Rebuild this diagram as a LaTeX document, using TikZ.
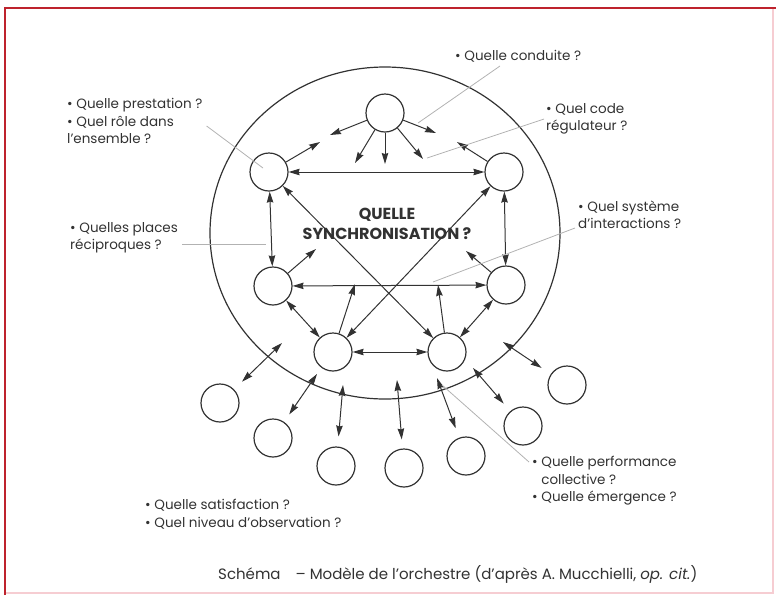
\documentclass[tikz,border=0pt]{standalone}
\usepackage{fontspec}
\setmainfont{Poppins}
\usetikzlibrary{arrows.meta}
\definecolor{orchred}{RGB}{190,35,45}
\definecolor{orchpink}{RGB}{246,205,210}
\definecolor{orchink}{RGB}{50,50,50}
\definecolor{orchgrey}{RGB}{178,178,178}

\begin{document}
\begin{tikzpicture}[
    x=1pt, y=-1pt,
    orchgroup/.style={draw=orchink, line width=1.2pt},
    orchbody/.style={circle, draw=orchink, fill=white, line width=1.2pt, minimum size=38pt, inner sep=0pt},
    orcharrow/.style={draw=orchink, line width=1pt, {Stealth[length=11pt,width=6.5pt,inset=1pt]}-{Stealth[length=11pt,width=6.5pt,inset=1pt]}},
    orchout/.style={draw=orchink, line width=1pt, -{Stealth[length=11pt,width=6.5pt,inset=1pt]}},
    orchlead/.style={draw=orchgrey, line width=0.8pt},
    orchtext/.style={anchor=west, inner sep=0pt, align=left, text=orchink, font=\fontsize{13.5}{17.5}\selectfont}
]
  \useasboundingbox (0,0) rectangle (776,595);
  % frame
  \draw[orchpink, line width=1.5pt] (773,8) -- (773,593) -- (5,593);
  \draw[orchred, line width=2pt] (5,595) -- (5,8) -- (776,8);

  % the orchestra as a whole
  \draw[orchgroup] (385,233) ellipse [x radius=175, y radius=166];

  % musicians inside
  \node[orchbody] (top) at (385,113) {};
  \node[orchbody] (ul) at (269,172) {};
  \node[orchbody] (ur) at (504,172) {};
  \node[orchbody] (ml) at (273,286) {};
  \node[orchbody] (mr) at (506,285) {};
  \node[orchbody] (ll) at (333,352) {};
  \node[orchbody] (lr) at (447,352) {};
  % audience outside
  \node[orchbody] (o1) at (220,403) {};
  \node[orchbody] (o2) at (273,438) {};
  \node[orchbody] (o3) at (336,466) {};
  \node[orchbody] (o4) at (404,468) {};
  \node[orchbody] (o5) at (466,456) {};
  \node[orchbody] (o6) at (523,426) {};
  \node[orchbody] (o7) at (567,385) {};

  % free ends
  \coordinate (tw) at (330,135);
  \coordinate (te) at (436,133);
  \coordinate (tsw) at (355,163);
  \coordinate (ts) at (385,164);
  \coordinate (tse) at (423,159);
  \coordinate (uw) at (320,142);
  \coordinate (ue) at (457,142);
  \coordinate (mlc) at (316,249);
  \coordinate (mrc) at (466,251);
  \coordinate (llc) at (355,284);
  \coordinate (lrc) at (438,285);
  \coordinate (g1) at (282,343);
  \coordinate (g2) at (317,374);
  \coordinate (g3) at (343,385);
  \coordinate (g4) at (397,380);
  \coordinate (g5) at (437,378);
  \coordinate (g6) at (473,368);
  \coordinate (g7) at (503,342);

  % links between musicians
  \draw[orcharrow] (ul) -- (ur);
  \draw[orcharrow] (ul) -- (ml);
  \draw[orcharrow] (ur) -- (mr);
  \draw[orcharrow] (ml) -- (mr);
  \draw[orcharrow] (ml) -- (ll);
  \draw[orcharrow] (mr) -- (lr);
  \draw[orcharrow] (ll) -- (lr);
  \draw[orcharrow] (ul) -- (lr);
  \draw[orcharrow] (ur) -- (ll);
  \draw[orchout] (top) -- (tw);
  \draw[orchout] (top) -- (te);
  \draw[orchout] (top) -- (tsw);
  \draw[orchout] (top) -- (ts);
  \draw[orchout] (top) -- (tse);
  \draw[orchout] (ul) -- (uw);
  \draw[orchout] (ur) -- (ue);
  \draw[orchout] (ml) -- (mlc);
  \draw[orchout] (mr) -- (mrc);
  \draw[orchout] (ll) -- (llc);
  \draw[orchout] (lr) -- (lrc);
  % links with the outside
  \draw[orcharrow, shorten >=11pt] (g1) -- (o1);
  \draw[orcharrow, shorten >=9pt] (g2) -- (o2);
  \draw[orcharrow, shorten >=10pt] (g3) -- (o3);
  \draw[orcharrow, shorten >=9pt] (g4) -- (o4);
  \draw[orcharrow, shorten >=10pt] (g5) -- (o5);
  \draw[orcharrow, shorten >=10pt] (g6) -- (o6);
  \draw[orcharrow, shorten >=11pt] (g7) -- (o7);

  \node[font=\bfseries\fontsize{16}{20}\selectfont, align=center, text=orchink] (sync) at (387,224) {QUELLE\\SYNCHRONISATION ?};

  % questions
  \node[orchtext] (conduite) at (455,56) {• Quelle conduite ?};
  \node[orchtext] (code) at (546,119) {• Quel code\\régulateur ?};
  \node[orchtext] (prestation) at (67,121) {• Quelle prestation ?\\• Quel rôle dans\\l'ensemble ?};
  \node[orchtext] (places) at (70,238) {• Quelles places\\réciproques ?};
  \node[orchtext] (systeme) at (578,215) {• Quel système\\d'interactions ?};
  \node[orchtext] (performance) at (532,481) {• Quelle performance\\\hphantom{• }collective ?\\• Quelle émergence ?};
  \node[orchtext] (satisfaction) at (145,514) {• Quelle satisfaction ?\\• Quel niveau d'observation ?};
  \node[orchtext, font=\fontsize{15}{17}\selectfont] (caption) at (218,574) {Schéma\hspace{15pt}– Modèle de l'orchestre (d'après A. Mucchielli, \textit{op. cit.})};

  \coordinate (lconduite) at (418,123);
  \coordinate (lcode) at (427,158);
  \coordinate (lprestation) at (263,168);
  \coordinate (lplaces) at (266,244);
  \coordinate (lsysteme) at (433,282);
  \coordinate (lperformance) at (442,385);
  \draw[orchlead] ([shift={(45,10)}]conduite.west) -- (lconduite);
  \draw[orchlead] ([shift={(-2,0)}]code.west) -- (lcode);
  \draw[orchlead] ([shift={(4,5)}]prestation.east) -- (lprestation);
  \draw[orchlead] ([shift={(4,6)}]places.east) -- (lplaces);
  \draw[orchlead] ([shift={(-3,13)}]systeme.west) -- (lsysteme);
  \draw[orchlead] ([shift={(-3,-19)}]performance.west) -- (lperformance);
\end{tikzpicture}
\end{document}
